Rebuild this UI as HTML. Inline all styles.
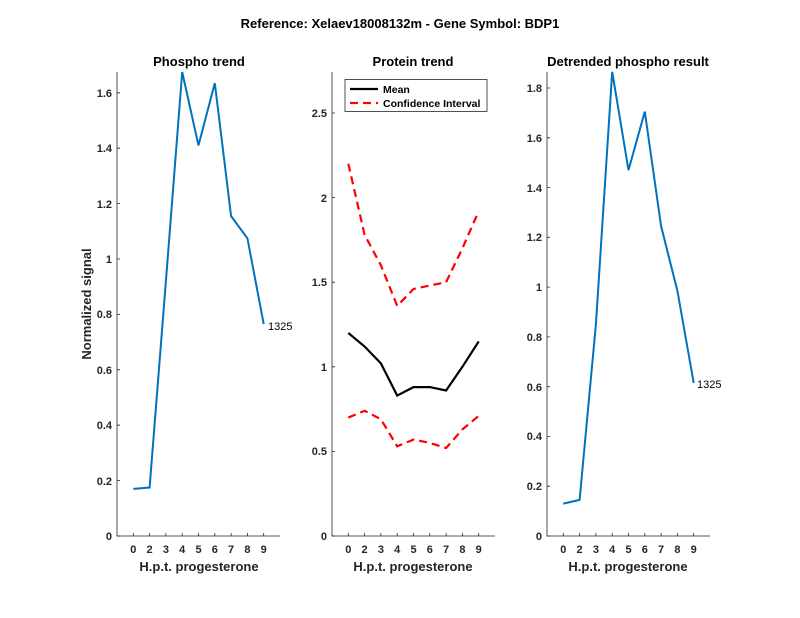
<!DOCTYPE html>
<html><head><style>body{margin:0;background:#fff}svg{display:block;font-family:"Liberation Sans",Arial,sans-serif}</style></head><body>
<svg width="800" height="618" viewBox="0 0 800 618">
<rect width="800" height="618" fill="#fff"/>
<text x="400" y="28" font-size="13" font-weight="bold" text-anchor="middle" fill="#000">Reference:  Xelaev18008132m - Gene Symbol:  BDP1</text>
<g font-size="11" fill="#262626" font-weight="bold">
<!-- Panel 1 -->
<text x="199" y="66" font-size="13" text-anchor="middle" fill="#000">Phospho trend</text>
<path d="M117,72V536H280" fill="none" stroke="#262626" stroke-width="0.8"/>
<g stroke="#262626" stroke-width="0.8">
<path d="M117,536h3M117,480.6h3M117,425.2h3M117,369.8h3M117,314.4h3M117,259h3M117,203.6h3M117,148.2h3M117,92.8h3"/>
<path d="M133.3,536v-3M149.6,536v-3M165.9,536v-3M182.2,536v-3M198.5,536v-3M214.8,536v-3M231.1,536v-3M247.4,536v-3M263.7,536v-3"/>
</g>
<g text-anchor="end"><text x="112" y="540">0</text><text x="112" y="485">0.2</text><text x="112" y="429">0.4</text><text x="112" y="374">0.6</text><text x="112" y="318">0.8</text><text x="112" y="263">1</text><text x="112" y="208">1.2</text><text x="112" y="152">1.4</text><text x="112" y="97">1.6</text></g>
<g text-anchor="middle"><text x="133.3" y="553">0</text><text x="149.6" y="553">2</text><text x="165.9" y="553">3</text><text x="182.2" y="553">4</text><text x="198.5" y="553">5</text><text x="214.8" y="553">6</text><text x="231.1" y="553">7</text><text x="247.4" y="553">8</text><text x="263.7" y="553">9</text></g>
<text x="199" y="571" font-size="13" text-anchor="middle">H.p.t. progesterone</text>
<text transform="translate(91,304) rotate(-90)" font-size="13" text-anchor="middle">Normalized signal</text>
<g transform="translate(117,536) scale(16.3,-277)"><polyline vector-effect="non-scaling-stroke" fill="none" stroke="#0072BD" stroke-width="2" points="1,0.17 2,0.175 3,0.92 4,1.675 5,1.41 6,1.635 7,1.155 8,1.075 9,0.765"/></g>
<text x="268" y="330" font-weight="normal" fill="#000">1325</text>

<!-- Panel 2 -->
<text x="413" y="66" font-size="13" text-anchor="middle" fill="#000">Protein trend</text>
<path d="M332,72V536H495" fill="none" stroke="#262626" stroke-width="0.8"/>
<g stroke="#262626" stroke-width="0.8">
<path d="M332,536h3M332,451.4h3M332,366.8h3M332,282.2h3M332,197.6h3M332,113h3"/>
<path d="M348.3,536v-3M364.6,536v-3M380.9,536v-3M397.2,536v-3M413.5,536v-3M429.8,536v-3M446.1,536v-3M462.4,536v-3M478.7,536v-3"/>
</g>
<g text-anchor="end"><text x="327" y="540">0</text><text x="327" y="455">0.5</text><text x="327" y="371">1</text><text x="327" y="286">1.5</text><text x="327" y="202">2</text><text x="327" y="117">2.5</text></g>
<g text-anchor="middle"><text x="348.3" y="553">0</text><text x="364.6" y="553">2</text><text x="380.9" y="553">3</text><text x="397.2" y="553">4</text><text x="413.5" y="553">5</text><text x="429.8" y="553">6</text><text x="446.1" y="553">7</text><text x="462.4" y="553">8</text><text x="478.7" y="553">9</text></g>
<text x="413" y="571" font-size="13" text-anchor="middle">H.p.t. progesterone</text>
<g transform="translate(332,536) scale(16.3,-169.2)">
<polyline vector-effect="non-scaling-stroke" fill="none" stroke="#000" stroke-width="2.2" points="1,1.2 2,1.12 3,1.02 4,0.83 5,0.88 6,0.88 7,0.86 8,1.0 9,1.15"/>
<polyline vector-effect="non-scaling-stroke" fill="none" stroke="#f00" stroke-width="2.2" stroke-dasharray="8,5" points="1,2.2 2,1.78 3,1.6 4,1.36 5,1.46 6,1.48 7,1.5 8,1.7 9,1.92"/>
<polyline vector-effect="non-scaling-stroke" fill="none" stroke="#f00" stroke-width="2.2" stroke-dasharray="8,5" points="1,0.7 2,0.74 3,0.69 4,0.53 5,0.57 6,0.55 7,0.52 8,0.63 9,0.71"/>
</g>
<rect x="345" y="79.5" width="142" height="32" fill="#fff" stroke="#262626" stroke-width="0.8"/>
<path d="M350,89H378" stroke="#000" stroke-width="2.2"/>
<path d="M350,103H378" stroke="#f00" stroke-width="2.2" stroke-dasharray="8,5"/>
<text x="383" y="93" font-size="10.5" fill="#000">Mean</text>
<text x="383" y="107" font-size="10.5" fill="#000">Confidence Interval</text>

<!-- Panel 3 -->
<text x="628" y="66" font-size="13" text-anchor="middle" fill="#000">Detrended phospho result</text>
<path d="M547,72V536H710" fill="none" stroke="#262626" stroke-width="0.8"/>
<g stroke="#262626" stroke-width="0.8">
<path d="M547,536h3M547,486.2h3M547,436.4h3M547,386.7h3M547,336.9h3M547,287.1h3M547,237.3h3M547,187.6h3M547,137.8h3M547,88h3"/>
<path d="M563.3,536v-3M579.6,536v-3M595.9,536v-3M612.2,536v-3M628.5,536v-3M644.8,536v-3M661.1,536v-3M677.4,536v-3M693.7,536v-3"/>
</g>
<g text-anchor="end"><text x="542" y="540">0</text><text x="542" y="490">0.2</text><text x="542" y="440">0.4</text><text x="542" y="391">0.6</text><text x="542" y="341">0.8</text><text x="542" y="291">1</text><text x="542" y="241">1.2</text><text x="542" y="192">1.4</text><text x="542" y="142">1.6</text><text x="542" y="92">1.8</text></g>
<g text-anchor="middle"><text x="563.3" y="553">0</text><text x="579.6" y="553">2</text><text x="595.9" y="553">3</text><text x="612.2" y="553">4</text><text x="628.5" y="553">5</text><text x="644.8" y="553">6</text><text x="661.1" y="553">7</text><text x="677.4" y="553">8</text><text x="693.7" y="553">9</text></g>
<text x="628" y="571" font-size="13" text-anchor="middle">H.p.t. progesterone</text>
<g transform="translate(547,536) scale(16.3,-248.9)"><polyline vector-effect="non-scaling-stroke" fill="none" stroke="#0072BD" stroke-width="2" points="1,0.13 2,0.145 3,0.85 4,1.865 5,1.47 6,1.705 7,1.245 8,0.985 9,0.615"/></g>
<text x="697" y="388" font-weight="normal" fill="#000">1325</text>
</g>
</svg>
</body></html>
